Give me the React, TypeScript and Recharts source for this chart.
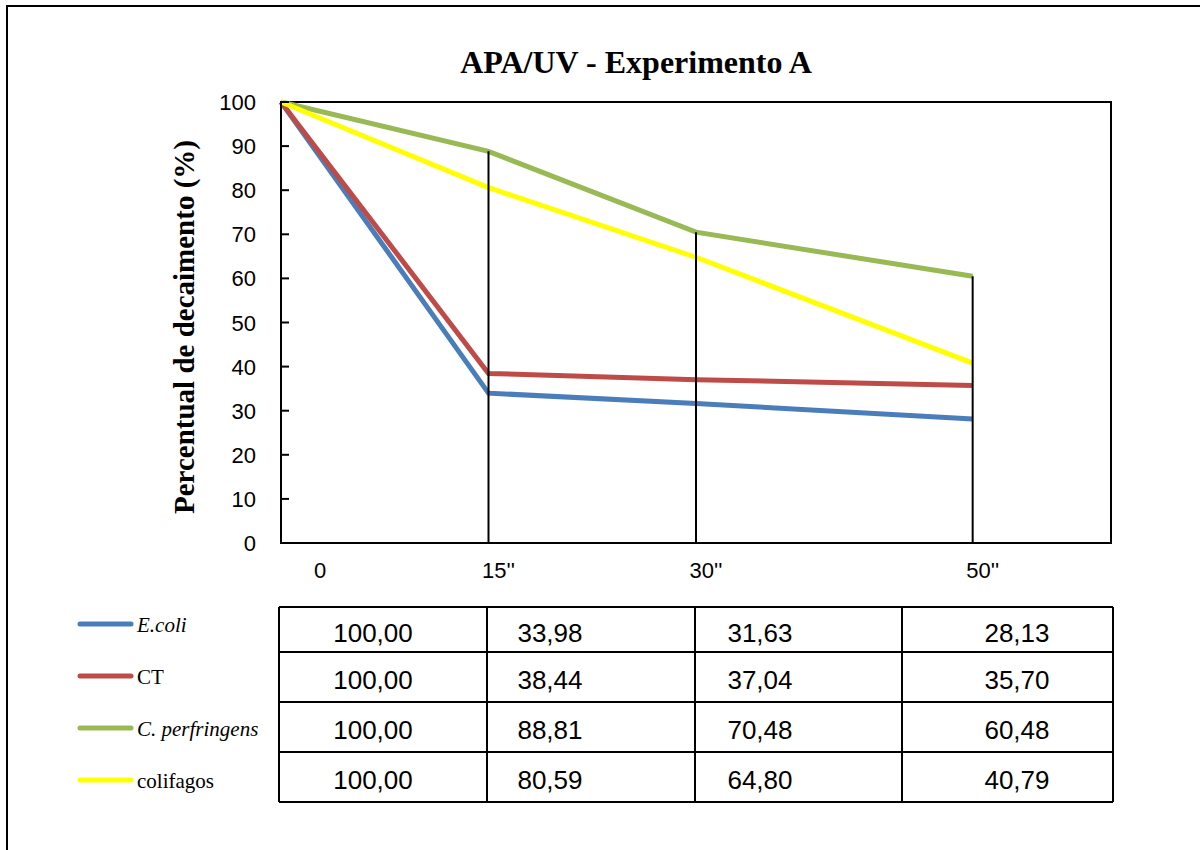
import { LineChart, Line, XAxis, YAxis, ReferenceLine, ReferenceArea } from "recharts";

const times = [0, 15, 30, 50];
const timeLabels = ["0", "15''", "30''", "50''"];
const yTicks = [0, 10, 20, 30, 40, 50, 60, 70, 80, 90, 100];

const ecoli = [100, 33.98, 31.63, 28.13];
const ct = [100, 38.44, 37.04, 35.7];
const perfringens = [100, 88.81, 70.48, 60.48];
const colifagos = [100, 80.59, 64.8, 40.79];

const series = [
  { key: "ecoli", name: "E.coli", italic: true, color: "#4A7EBB", values: ecoli },
  { key: "ct", name: "CT", italic: false, color: "#BE4B48", values: ct },
  { key: "perfringens", name: "C. perfringens", italic: true, color: "#98B954", values: perfringens },
  { key: "colifagos", name: "colifagos", italic: false, color: "#FFFF00", values: colifagos },
];

const SERIF = "'Liberation Serif', 'Times New Roman', serif";
const SANS = "'Liberation Sans', Arial, sans-serif";

// table grid (data table under the chart, as drawn by Excel)
const colEdges = [279, 487, 695, 902, 1113];
const colTextX = [373, 550, 760, 1017];
const rowEdges = [607, 652, 702, 752, 802];
const legendY = [624, 676, 728, 780];

const fmt = (v: number) => v.toFixed(2).replace(".", ",");

function YTick(props: any) {
  const { x, y, payload } = props;
  return (
    <g>
      <line x1={x} x2={x + 8} y1={y} y2={y} stroke="#000" strokeWidth={2} />
      <text x={x - 25} y={y + 8} textAnchor="end" fontFamily={SANS} fontSize={22} fill="#000">
        {payload.value}
      </text>
    </g>
  );
}

function XTick(props: any) {
  const { x, y, payload } = props;
  const i = times.indexOf(payload.value);
  const dx = payload.value === 0 ? 39 : 10;
  return (
    <text x={x + dx} y={y + 35} textAnchor="middle" fontFamily={SANS} fontSize={22} fill="#000">
      {timeLabels[i]}
    </text>
  );
}

export default function App() {
  const data = times.map((t, i) => {
    const row: Record<string, number> = { t };
    series.forEach((s) => (row[s.key] = s.values[i]));
    return row;
  });

  const drops = times
    .map((t, i) => ({ t, top: Math.max(...series.map((s) => s.values[i])) }))
    .filter((d) => d.t > 0);

  return (
    <div style={{ position: "fixed", left: 0, top: 0, width: 1200, height: 850, overflow: "hidden", background: "#fff" }}>
      <div
        style={{
          position: "absolute",
          left: 6,
          top: 5,
          width: 1300,
          height: 1000,
          borderLeft: "2px solid #000",
          borderTop: "2px solid #000",
        }}
      />
      <div style={{ position: "absolute", left: 0, top: 0 }}>
        <LineChart width={1200} height={600} data={data} margin={{ top: 102, right: 89, bottom: 17, left: 221 }}>
          <XAxis
            dataKey="t"
            type="number"
            domain={[0, 60]}
            ticks={times}
            tick={<XTick />}
            tickLine={false}
            tickSize={0}
            tickMargin={0}
            height={40}
            axisLine={{ stroke: "#000", strokeWidth: 2 }}
          />
          <YAxis
            domain={[0, 100]}
            ticks={yTicks}
            tick={<YTick />}
            tickLine={false}
            tickSize={0}
            tickMargin={0}
            width={60}
            axisLine={{ stroke: "#000", strokeWidth: 2 }}
          />
          <ReferenceArea x1={0} x2={60} y1={0} y2={100} fill="none" stroke="#000" strokeWidth={2} />
          {series.map((s) => (
            <Line
              key={s.key}
              type="linear"
              dataKey={s.key}
              stroke={s.color}
              strokeWidth={5}
              dot={false}
              activeDot={false}
              isAnimationActive={false}
            />
          ))}
          {drops.map((d) => (
            <ReferenceLine
              key={d.t}
              segment={[
                { x: d.t, y: 0 },
                { x: d.t, y: d.top },
              ]}
              stroke="#000"
              strokeWidth={2}
            />
          ))}
        </LineChart>
      </div>
      <svg width={1200} height={850} style={{ position: "absolute", left: 0, top: 0, pointerEvents: "none" }}>
        <text x={636} y={73} textAnchor="middle" fontFamily={SERIF} fontWeight="bold" fontSize={32} fill="#000">
          APA/UV - Experimento A
        </text>
        <text
          x={194}
          y={327}
          transform="rotate(-90 194 327)"
          textAnchor="middle"
          fontFamily={SERIF}
          fontWeight="bold"
          fontSize={29}
          fill="#000"
        >
          Percentual de decaimento (%)
        </text>

        {series.map((s, r) => {
          const cy = (rowEdges[r] + rowEdges[r + 1]) / 2;
          const ly = legendY[r];
          return (
            <g key={s.key}>
              <line x1={80} x2={131} y1={ly} y2={ly} stroke={s.color} strokeWidth={5} strokeLinecap="round" />
              <text
                x={137}
                y={ly + 8}
                fontFamily={SERIF}
                fontSize={21}
                fontStyle={s.italic ? "italic" : "normal"}
                fill="#000"
              >
                {s.name}
              </text>
              {s.values.map((v, c) => (
                <text key={c} x={colTextX[c]} y={cy + 12} textAnchor="middle" fontFamily={SANS} fontSize={26} fill="#000">
                  {fmt(v)}
                </text>
              ))}
            </g>
          );
        })}

        {rowEdges.map((y) => (
          <line key={"r" + y} x1={colEdges[0]} x2={colEdges[colEdges.length - 1]} y1={y} y2={y} stroke="#000" strokeWidth={2} />
        ))}
        {colEdges.map((x) => (
          <line key={"c" + x} x1={x} x2={x} y1={rowEdges[0]} y2={rowEdges[rowEdges.length - 1]} stroke="#000" strokeWidth={2} />
        ))}
      </svg>
    </div>
  );
}
